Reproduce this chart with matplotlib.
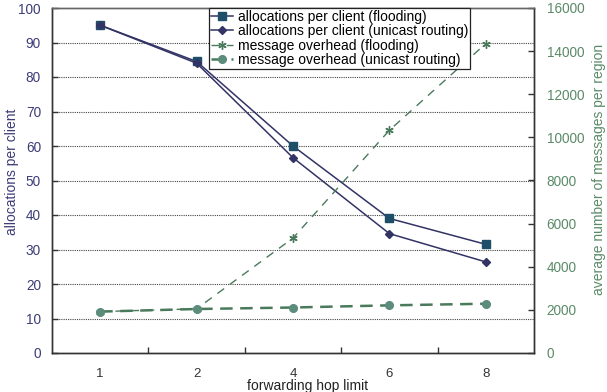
import matplotlib
matplotlib.use("Agg")
import matplotlib.pyplot as plt
import numpy as np

plt.rcParams['font.family'] = ['Liberation Sans', 'DejaVu Sans']

categories = ['1', '2', '4', '6', '8']
alloc_flooding = [95, 84.5, 60, 39, 31.5]
alloc_unicast = [95, 84, 56.6, 34.6, 26.4]
msg_flooding = [1920, 2050, 5330, 10330, 14350]
msg_unicast = [1920, 2040, 2110, 2210, 2285]

navy = '#333366'
teal = '#1F4E68'
green = '#4A7A5C'
green_m = '#5B8C7C'
left_col = '#3C3C78'
right_col = '#5A8A68'

fig = plt.figure(figsize=(6.07, 3.92), dpi=100)
ax = fig.add_axes([52/607, 1-353/392, (534-52)/607, (353-8)/392])
ax2 = ax.twinx()

x = np.arange(len(categories))

l1, = ax.plot(x, alloc_flooding, color=navy, lw=1.1, marker='s', ms=5.5,
              mfc=teal, mec=teal, label='allocations per client (flooding)')
l2, = ax.plot(x, alloc_unicast, color=navy, lw=1.1, marker='D', ms=4,
              mfc=navy, mec=navy, label='allocations per client (unicast routing)')
l3, = ax2.plot(x, msg_flooding, color=green, lw=1.0, ls=(0, (6, 5)), marker=(6, 2, 0), ms=6,
               mec=green, label='message overhead (flooding)')
l4, = ax2.plot(x, msg_unicast, color=green, lw=1.8, ls=(0, (5, 3)), marker='o', ms=5.5,
               mfc=green_m, mec=green_m, label='message overhead (unicast routing)')

ax.set_xlim(-0.5, 4.5)
ax.set_ylim(0, 100)
ax2.set_ylim(0, 16000)
ax.set_yticks(np.arange(0, 101, 10))
ax2.set_yticks(np.arange(0, 16001, 2000))
ax.set_xticks(x)
ax.set_xticklabels(categories)
ax.set_xticks(np.arange(0.5, 4, 1), minor=True)

for yv in range(10, 100, 10):
    ax.axhline(yv, color='#444444', lw=0.8, ls=(0, (1, 1)), zorder=0)

ax.tick_params(axis='x', which='major', length=0, pad=11, labelsize=9.5, colors='#333333')
ax.tick_params(axis='x', which='minor', direction='in', length=4, width=1, color='#333333')
ax.tick_params(axis='y', direction='in', length=4, width=1, pad=8, labelsize=9.8, labelcolor=left_col, color='#333333')
ax2.tick_params(axis='y', direction='in', length=4, width=1, pad=9, labelsize=9.8, labelcolor=right_col, color='#333333')

for a in (ax, ax2):
    for s in a.spines.values():
        s.set_color('#333333')
        s.set_linewidth(1.0)
    a.spines['top'].set_color('#666666')

ax.set_ylabel('allocations per client', color=left_col, fontsize=10)
ax.yaxis.set_label_coords((19-52)/482, (353-172)/345)
ax2.set_ylabel('average number of messages per region', color=right_col, fontsize=10)
ax2.yaxis.set_label_coords((592-52)/482, (353-169)/345)
ax.set_xlabel('forwarding hop limit', color='#222222', fontsize=10)
ax.xaxis.set_label_coords((308-52)/482, -0.075)

leg = ax2.legend(handles=[l1, l2, l3, l4], loc='upper right',
                 bbox_to_anchor=((470-52)/482, 1.0), fontsize=10,
                 frameon=True, fancybox=False, edgecolor='#222222', framealpha=1,
                 handlelength=1.6, handletextpad=0.3, borderpad=0.15,
                 labelspacing=0.02, borderaxespad=0)
leg.get_frame().set_linewidth(0.9)

fig.savefig('out.png', dpi=100)
